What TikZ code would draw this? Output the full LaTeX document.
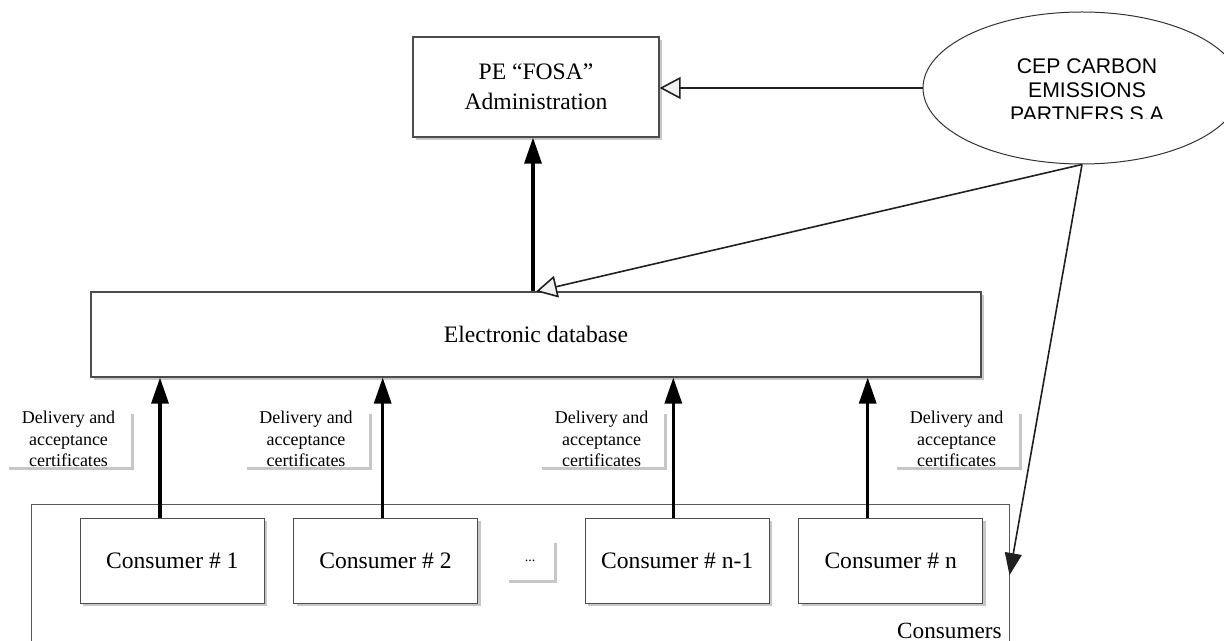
\documentclass[tikz,border=0pt]{standalone}
\usepackage{fontspec}
\setmainfont{Liberation Serif}
\newfontfamily\arialfont{Liberation Sans}
\usetikzlibrary{arrows.meta,shadows,shapes.geometric}
\begin{document}
\begin{tikzpicture}[x=0.5pt,y=-0.5pt,
  shad/.style={drop shadow={shadow xshift=1.5pt, shadow yshift=-1.5pt, fill=black!22, opacity=1}},
  box/.style={draw=gray!60!black, line width=0.6pt, fill=white, inner sep=0pt, align=center,
    font=\fontsize{11.8}{15}\selectfont, shad},
  consumer/.style={box, minimum width=92pt, minimum height=42.5pt},
  lbl/.style={fill=white, inner sep=0pt, minimum width=62.5pt, minimum height=28pt, align=center,
    font=\fontsize{9}{10.75}\selectfont, shad},
  groupbox/.style={draw=gray!70!black, line width=0.5pt, inner sep=0pt},
  bigarrow/.style={line width=1.6pt, black, -{Triangle[length=13pt,width=8.5pt]}},
  openarrow/.style={draw=gray!25!black, line width=0.8pt, -{Triangle[open, fill=gray!10, length=10.5pt, width=11pt]}},
  darkarrow/.style={draw=gray!25!black, line width=0.8pt, -{Triangle[length=11pt, width=8.5pt]}},
]
\useasboundingbox (0,0) rectangle (1224,641);

% group of consumers
\node[groupbox, minimum width=488.65pt, minimum height=70.85pt] (grp) at (520.35,575.15) {};
\node[anchor=base east, inner sep=0pt, font=\fontsize{11.6}{14}\selectfont] (grplbl) at (1002,638) {Consumers};

% main boxes
\node[box, minimum width=123pt, minimum height=50pt] (admin) at (536,87) {PE “FOSA”\\Administration};
\node[box, minimum width=445pt, minimum height=42.5pt] (db) at (536,334.5) {Electronic database};

\node[consumer] (c1) at (172.3,560.8) {Consumer \# 1};
\node[consumer] (c2) at (385.5,560.8) {Consumer \# 2};
\node[consumer] (c3) at (677.2,560.8) {Consumer \# n-1};
\node[consumer] (c4) at (890.7,560.8) {Consumer \# n};
\node[lbl, minimum width=24pt, minimum height=20pt, font=\fontsize{7}{8}\selectfont] (dots) at (530,560) {\raisebox{-2pt}{...}};

% labels
\node[lbl] (l1) at (68.5,439) {Delivery and\\acceptance\\certificates};
\node[lbl] (l2) at (306,439) {Delivery and\\acceptance\\certificates};
\node[lbl] (l3) at (601.5,439) {Delivery and\\acceptance\\certificates};
\node[lbl] (l4) at (956.5,439) {Delivery and\\acceptance\\certificates};

% ellipse
\node[ellipse, draw=gray!40!black, line width=0.5pt, fill=white, minimum width=159pt, minimum height=76pt, inner sep=0pt] (ell) at (1082,88) {};
\begin{scope}
  \clip (900,0) rectangle (1224,118.5);
  \node[inner sep=0pt, align=center, font=\arialfont\fontsize{10.6}{12}\selectfont] (elltext) at (1087,90.5) {CEP CARBON\\EMISSIONS\\PARTNERS S.A};
\end{scope}

% connectors
\draw[bigarrow] ([xshift=-1.5pt]db.north) -- ([xshift=-1.5pt]db.north |- admin.south);
\draw[openarrow] (ell.west) -- (ell.west -| admin.east);
\draw[openarrow] (ell.south) -- (db.north);
\draw[darkarrow] (ell.south) -- (grp.east);

\draw[bigarrow] ([xshift=-6.15pt]c1.north) -- ([xshift=-6.15pt]c1.north |- db.south);
\draw[bigarrow] ([xshift=-1.4pt]c2.north) -- ([xshift=-1.4pt]c2.north |- db.south);
\draw[bigarrow] ([xshift=-1.95pt]c3.north) -- ([xshift=-1.95pt]c3.north |- db.south);
\draw[bigarrow] ([xshift=-11.5pt]c4.north) -- ([xshift=-11.5pt]c4.north |- db.south);
\end{tikzpicture}
\end{document}
